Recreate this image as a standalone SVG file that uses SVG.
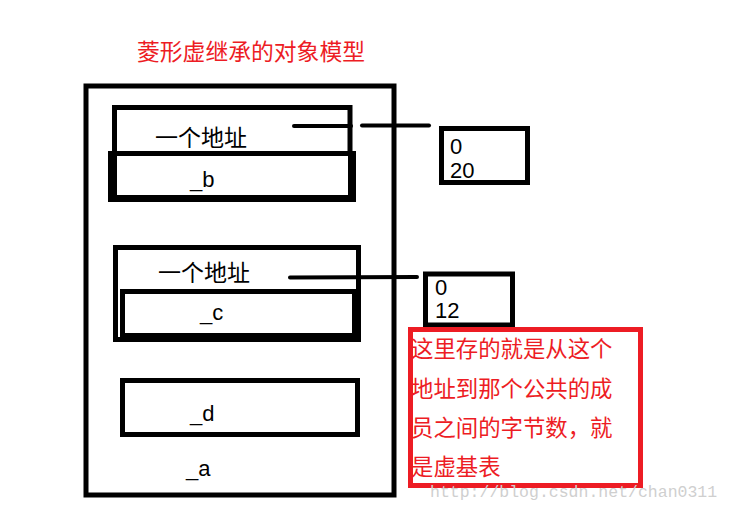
<svg xmlns="http://www.w3.org/2000/svg" width="731" height="512" viewBox="0 0 731 512">
<style>
.blk{fill:none;stroke:#000;stroke-width:5}
.fillblk{fill:#000;fill-rule:evenodd}
.cjk{font-family:"Noto Sans CJK SC","Noto Sans",sans-serif;font-size:23px;fill:#000}
.lat{font-family:"Liberation Sans",Arial,sans-serif;font-size:22px;fill:#000}
.red{fill:#ED1C24}
.conn{stroke:#000;stroke-width:4;stroke-linecap:round}
</style>
<rect width="731" height="512" fill="#fff"/>
<text x="137" y="60" class="cjk red" style="font-size:22.8px">菱形虚继承的对象模型</text>
<g id="outer">
<rect x="86" y="86" width="308" height="409" class="blk"/>
<text x="186" y="476" class="lat">_a</text>
</g>
<g id="addr1">
<rect x="114.5" y="107.5" width="235.5" height="46" class="blk"/>
<text x="155" y="146" class="cjk">一个地址</text>
</g>
<g id="b">
<path class="fillblk" d="M108 151H356V202H108Z M117 156V195H348V156Z"/>
<text x="190" y="187" class="lat">_b</text>
</g>
<g id="addr2">
<rect x="115.5" y="247.5" width="243" height="92" class="blk"/>
<text x="158" y="281" class="cjk">一个地址</text>
</g>
<g id="c">
<path class="fillblk" d="M120 289H360V342H120Z M125 294V333H352V294Z"/>
<text x="200" y="320" class="lat">_c</text>
</g>
<g id="d">
<rect x="122.5" y="380.5" width="235" height="54" class="blk"/>
<text x="190" y="421" class="lat">_d</text>
</g>
<g id="vb1">
<rect x="441.5" y="128.5" width="86" height="54" class="blk"/>
<text x="450" y="154" class="lat">0</text>
<text x="450" y="178" class="lat">20</text>
</g>
<g id="vb2">
<rect x="425.5" y="274" width="87" height="51" class="blk"/>
<text x="435" y="295" class="lat">0</text>
<text x="435" y="318" class="lat">12</text>
</g>
<g id="connectors">
<line x1="294" y1="126" x2="351" y2="126" class="conn"/>
<line x1="362" y1="125.5" x2="429" y2="125.5" class="conn"/>
<line x1="290" y1="277.5" x2="417" y2="277" class="conn"/>
</g>
<g id="note">
<g class="cjk red" style="font-size:22.4px">
<text x="411" y="357">这里存的就是从这个</text>
<text x="411" y="397">地址到那个公共的成</text>
<text x="411" y="436">员之间的字节数，就</text>
<text x="411" y="475">是虚基表</text>
</g>
<rect x="410.5" y="329.5" width="230" height="156" fill="none" stroke="#ED1C24" stroke-width="5"/>
</g>
<text x="430" y="497" font-family="Liberation Mono,monospace" font-size="16.5" fill="#cfcfcf">http://blog.csdn.net/chan0311</text>
</svg>
